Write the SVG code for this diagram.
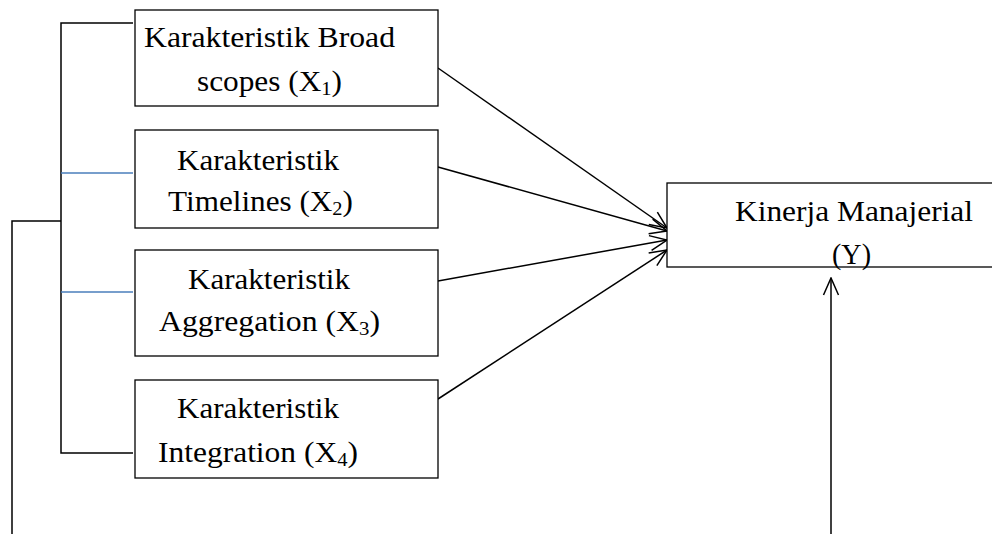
<svg xmlns="http://www.w3.org/2000/svg" width="992" height="534" viewBox="0 0 992 534">
<style>
.box{fill:#fff;stroke:#000;stroke-width:1.3}
.t{font-family:"Liberation Serif","Times New Roman",serif;font-size:29px;fill:#000}
.s{font-size:19px}
.ln{fill:none;stroke:#000;stroke-width:1.5}
.bl{fill:none;stroke:#4a7ebb;stroke-width:1.5}
.ar{fill:none;stroke:#000;stroke-width:1.5;marker-end:url(#ah)}
</style>
<defs>
<marker id="ah" viewBox="0 0 20 20" refX="19" refY="10" markerWidth="20" markerHeight="20" markerUnits="userSpaceOnUse" orient="auto">
<path d="M2,2.5 L19,10 L2,17.5" fill="none" stroke="#000" stroke-width="1.5"/>
</marker>
</defs>
<g id="connectors">
<polyline class="ln" points="133,23 61,23 61,453 133,453"/>
<line class="bl" x1="61" y1="173" x2="133" y2="173"/>
<line class="bl" x1="61" y1="292" x2="133" y2="292"/>
<polyline class="ln" points="12,534 12,221 61,221"/>
<line class="ar" x1="438" y1="68" x2="667" y2="228"/>
<line class="ar" x1="438" y1="167" x2="667" y2="231"/>
<line class="ar" x1="438" y1="281" x2="667" y2="240"/>
<line class="ar" x1="438" y1="399" x2="667" y2="250"/>
<line class="ar" x1="831" y1="534" x2="831" y2="278"/>
</g>
<g id="x1">
<rect class="box" x="135" y="10" width="303" height="96"/>
<text class="t" x="144" y="47" textLength="251" lengthAdjust="spacingAndGlyphs">Karakteristik Broad</text>
<text class="t" x="197" y="91" textLength="145" lengthAdjust="spacingAndGlyphs">scopes (X<tspan class="s" dy="4">1</tspan><tspan dy="-4">)</tspan></text>
</g>
<g id="x2">
<rect class="box" x="135" y="130" width="303" height="98"/>
<text class="t" x="177" y="170" textLength="162" lengthAdjust="spacingAndGlyphs">Karakteristik</text>
<text class="t" x="168" y="211" textLength="185" lengthAdjust="spacingAndGlyphs">Timelines (X<tspan class="s" dy="4">2</tspan><tspan dy="-4">)</tspan></text>
</g>
<g id="x3">
<rect class="box" x="135" y="250" width="303" height="106"/>
<text class="t" x="188" y="289" textLength="162" lengthAdjust="spacingAndGlyphs">Karakteristik</text>
<text class="t" x="159" y="331" textLength="221" lengthAdjust="spacingAndGlyphs">Aggregation (X<tspan class="s" dy="4">3</tspan><tspan dy="-4">)</tspan></text>
</g>
<g id="x4">
<rect class="box" x="135" y="380" width="303" height="98"/>
<text class="t" x="177" y="418" textLength="162" lengthAdjust="spacingAndGlyphs">Karakteristik</text>
<text class="t" x="158" y="462" textLength="200" lengthAdjust="spacingAndGlyphs">Integration (X<tspan class="s" dy="4">4</tspan><tspan dy="-4">)</tspan></text>
</g>
<g id="y">
<rect class="box" x="667" y="183" width="330" height="84"/>
<text class="t" x="735" y="221" textLength="238" lengthAdjust="spacingAndGlyphs">Kinerja Manajerial</text>
<text class="t" x="832" y="264" textLength="39" lengthAdjust="spacingAndGlyphs">(Y)</text>
</g>
</svg>
